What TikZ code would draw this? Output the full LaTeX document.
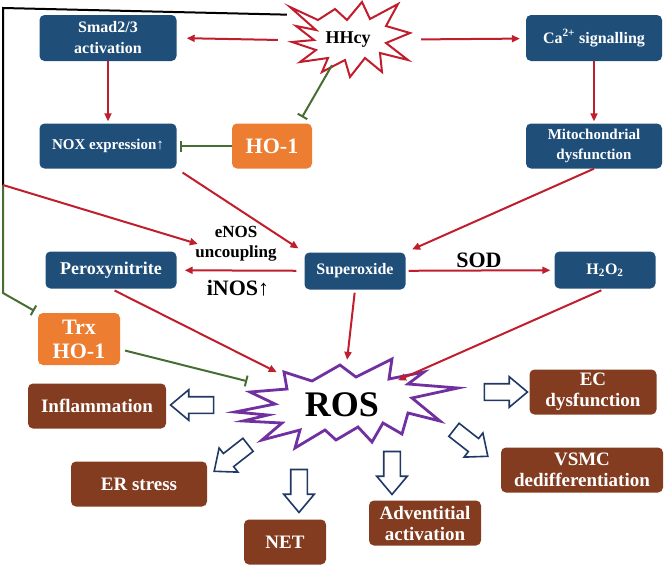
\documentclass[tikz,border=0pt]{standalone}
\usepackage{fontspec}
\setmainfont{Liberation Serif}
\usetikzlibrary{arrows.meta}
\usetikzlibrary{shapes.geometric}
\usetikzlibrary{shapes.arrows}

\definecolor{boxblue}{RGB}{31,78,121}
\definecolor{hoorange}{RGB}{237,125,49}
\definecolor{effbrown}{RGB}{131,60,32}
\definecolor{linkred}{RGB}{192,30,45}
\definecolor{blockgreen}{RGB}{70,110,50}
\definecolor{rospurple}{RGB}{112,48,160}
\definecolor{hollownavy}{RGB}{31,56,100}

\newcommand{\sz}[2]{\bfseries\fontsize{#1}{#2}\selectfont}

\tikzset{
  box/.style={rectangle, rounded corners=5pt, text=white, align=center, inner sep=2pt},
  bluebox/.style={box, fill=boxblue},
  orangebox/.style={box, fill=hoorange},
  brownbox/.style={box, fill=effbrown, minimum height=45pt},
  redarrow/.style={draw=linkred, line width=2pt, -{Triangle[length=8pt,width=7pt]}},
  greenbar/.style={draw=blockgreen, line width=2pt, -{Bar[width=11pt,line width=2pt]}},
  hollow/.style={single arrow, draw=hollownavy, line width=1.6pt, fill=white,
    minimum width=30pt, minimum height=43pt, single arrow head extend=7pt,
    single arrow tip angle=80, inner xsep=0pt, inner ysep=7.5pt},
}

\begin{document}
\begin{tikzpicture}[x=1pt,y=-1pt]
\useasboundingbox (0,0) rectangle (665,568);

% stars
\draw[linkred, line width=2pt, fill=white] (290,7) -- (318,20) -- (335,9) -- (347,20) -- (362,2)
  -- (370,19) -- (398,4) -- (386,26) -- (410,33) -- (386,43) -- (408,60) -- (380,53)
  -- (382,72) -- (365,58) -- (350,77) -- (345,60) -- (322,72) -- (328,58) -- (300,62)
  -- (316,50) -- (292,42) -- (314,40) -- (296,26) -- (316,30) -- cycle;
\node[ellipse, minimum width=136pt, minimum height=60pt, font=\sz{18}{20}] (hhcy) at (348,40) {HHcy};

\draw[rospurple, line width=2.8pt, fill=white, line join=miter] (235,412) -- (275,404) -- (250,392)
  -- (287,389) -- (284,372) -- (312,381) -- (340,365) -- (356,377) -- (392,359) -- (389,379)
  -- (424,372) -- (408,384) -- (458,388) -- (412,398) -- (440,421) -- (408,413) -- (402,434)
  -- (383,423) -- (372,442) -- (358,427) -- (336,440) -- (325,430) -- (295,448) -- (300,430)
  -- (262,440) -- (282,423) -- (243,421) -- (268,415) -- cycle;
\node[ellipse, minimum width=190pt, minimum height=90pt, font=\sz{36}{40}] (ros) at (342,405) {ROS};

% boxes
\node[bluebox, minimum width=137pt, minimum height=46pt, font=\sz{16}{21}] (smad) at (108,38) {Smad2/3\\activation};
\node[bluebox, minimum width=137pt, minimum height=45pt, font=\sz{15}{18}] (nox) at (108,146) {NOX expression↑};
\node[orangebox, minimum width=80pt, minimum height=45pt, font=\sz{22}{24}] (ho1) at (272,146) {HO-1};
\node[bluebox, minimum width=136pt, minimum height=46pt, font=\sz{16}{20}] (ca) at (594,38) {Ca\textsuperscript{2+} signalling};
\node[bluebox, minimum width=136pt, minimum height=45pt, font=\sz{15}{20}] (mito) at (594,146) {Mitochondrial\\dysfunction};
\node[bluebox, minimum width=131pt, minimum height=37pt, font=\sz{18}{20}] (peroxy) at (111,270) {Peroxynitrite};
\node[bluebox, minimum width=101pt, minimum height=37pt, font=\sz{16}{18}] (superox) at (355,271) {Superoxide};
\node[bluebox, minimum width=101pt, minimum height=37pt, font=\sz{16}{18}] (hto) at (605,270) {H\textsubscript{2}O\textsubscript{2}};
\node[orangebox, minimum width=82pt, minimum height=52pt, font=\sz{22}{24}] (trx) at (79,339) {Trx\\HO-1};

\node[brownbox, minimum width=138pt, font=\sz{19}{22}] (inflam) at (97,406) {Inflammation};
\node[brownbox, minimum width=136pt, font=\sz{19}{22}] (er) at (139,484) {ER stress};
\node[brownbox, minimum width=82pt, font=\sz{19}{22}] (net) at (285,542) {NET};
\node[brownbox, minimum width=112pt, font=\sz{19}{21}] (advent) at (425,523) {Adventitial\\activation};
\node[brownbox, minimum width=162pt, font=\sz{19}{21}] (vsmc) at (582,470) {VSMC\\dedifferentiation};
\node[brownbox, minimum width=127pt, font=\sz{19}{21}] (ec) at (593,392) {EC\\dysfunction};

% labels
\node[font=\sz{17}{20}, align=center] (enos) at (236,244) {eNOS\\uncoupling};
\node[font=\sz{22}{24}] (inos) at (238,288) {iNOS↑};
\node[font=\sz{22}{24}] (sod) at (479,260) {SOD};

% links
\coordinate (bend) at (3,185);
\draw[line width=2pt] ([xshift=-13pt,yshift=4pt]hhcy.north west) -- (3,8) -- (bend);
\draw[greenbar, shorten >=4pt] (bend) -- (3,293) -- (trx.north west);
\draw[redarrow] (bend) -- ([xshift=6pt]enos.west);

\draw[redarrow, shorten <=2pt, shorten >=10pt] (hhcy.west) -- (smad.east);
\draw[redarrow, shorten <=5pt, shorten >=6pt] (hhcy) -- (ca);
\draw[greenbar] ([xshift=-16pt,yshift=5pt]hhcy.south) -- ([xshift=30pt,yshift=6pt]ho1.north);
\draw[redarrow, shorten >=2pt] (smad) -- (nox);
\draw[greenbar, shorten >=3pt] (ho1) -- (nox);
\draw[redarrow, shorten >=2pt] (ca) -- (mito);
\draw[redarrow, shorten <=7pt, shorten >=7pt] (nox.south east) -- (superox.north west);
\draw[redarrow, shorten >=7pt] (mito.south) -- (superox.north east);
\draw[redarrow, shorten <=8pt, shorten >=8pt] (superox) -- (peroxy);
\draw[redarrow, shorten <=3pt, shorten >=4pt] (superox) -- (hto);
\draw[redarrow, shorten <=4pt] (peroxy.south) -- (ros);
\draw[greenbar, shorten <=5pt, shorten >=11pt] (trx) -- (ros);
\draw[redarrow, shorten <=3pt] (superox.south) -- (ros);
\draw[redarrow, shorten <=4pt, shorten >=-15pt] (hto.south) -- (ros);

% hollow arrows to effects
\node[hollow, rotate=180] (toinflam) at (197,405) {};
\node[hollow, rotate=218] (toer) at (235,455) {};
\node[hollow, rotate=270] (tonet) at (299,486) {};
\node[hollow, rotate=270] (toadvent) at (392,468) {};
\node[hollow, rotate=-38] (tovsmc) at (467,440) {};
\node[hollow] (toec) at (501,392) {};
\end{tikzpicture}
\end{document}
